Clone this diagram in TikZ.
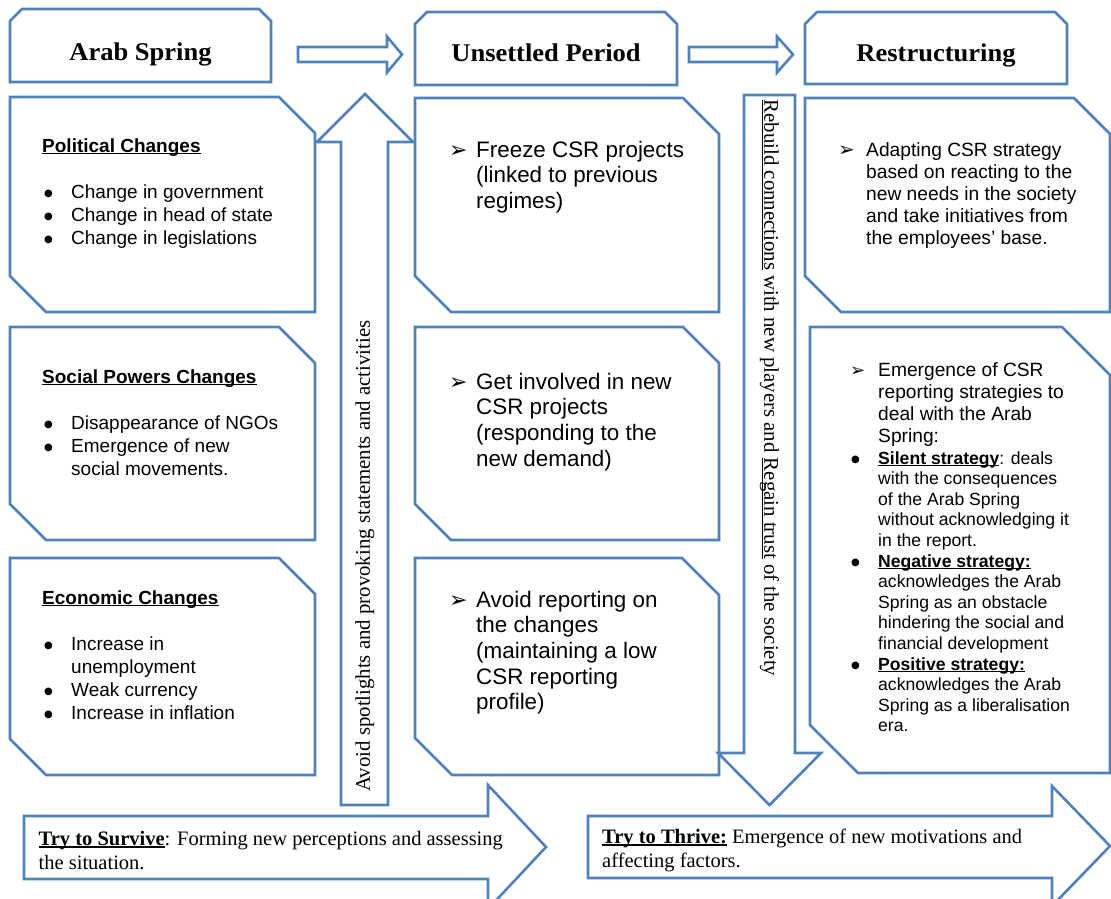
\documentclass[tikz,border=0pt]{standalone}
\usepackage{fontspec}
\setmainfont{Liberation Sans}
\newfontfamily\headfont[FakeStretch=1.04]{Liberation Serif}
\newfontfamily\serifbody{Liberation Serif}
\newfontfamily\symfont{DejaVu Sans}

\definecolor{edge}{HTML}{4F81BD}

% underline drawn as a rule just below the baseline
\newcommand\uln[1]{\setbox0\hbox{#1}\rlap{\rule[-0.13em]{\wd0}{0.065em}}\box0\relax}
% round list bullet
\newcommand\dotmark[2]{\raisebox{#2}{\symfont\fontsize{#1}{#1}\selectfont ●}}
% list items: bullet and arrow-head markers with hanging indent
\newcommand\bitem[3]{\par\hangindent=#1\hangafter=1\noindent\makebox[#1][l]{\hspace{#2}\dotmark{10}{1.5pt}}#3}
\newcommand\aitem[3]{\par\hangindent=#1\hangafter=1\noindent\makebox[#1][l]{{\symfont\fontsize{#2}{#2}\selectfont ➢}}#3}

% box with the two upper corners cut
\newcommand\tabbox[5]{\draw[box] (#1,{#2+#5}) -- ({#1+#5},#2) -- ({#3-#5},#2) -- (#3,{#2+#5}) -- (#3,#4) -- (#1,#4) -- cycle;}
% box with upper-right and lower-left corners cut
\newcommand\snipbox[5]{\draw[box] (#1,#2) -- ({#3-#5},#2) -- (#3,{#2+#5}) -- (#3,#4) -- ({#1+#5},#4) -- (#1,{#4-#5}) -- cycle;}

\tikzset{
  box/.style={draw=edge, line width=2.6pt, fill=white, line join=miter},
  txt/.style={anchor=base west, inner sep=0pt, align=left},
  title/.style={anchor=base, inner sep=0pt, font=\headfont\bfseries\fontsize{25.5}{30}\selectfont},
  sidetext/.style={inner sep=0pt, font=\serifbody\fontsize{20.8}{24}\selectfont},
  listA/.style={txt, font=\fontsize{19}{23}\selectfont},
  listB/.style={txt, font=\fontsize{22.4}{25.7}\selectfont},
  listC/.style={txt, font=\fontsize{19.2}{22}\selectfont},
  listD/.style={txt, font=\fontsize{17.6}{20.6}\selectfont},
  arrowtext/.style={txt, font=\serifbody\fontsize{20.5}{24.5}\selectfont},
}

\begin{document}
\begin{tikzpicture}[x=1pt,y=-1pt]
\useasboundingbox (0,0) rectangle (1111,898);
\fill[white] (0,0) rectangle (1111,898);
\clip (0,0) rectangle (1111,898);

% ---------- header row ----------
\tabbox{10}{9}{271}{82}{12}
\tabbox{415}{12}{677}{85}{12}
\tabbox{805}{12}{1067}{84}{12}
\node[title] (arab) at (140.5,60) {Arab Spring};
\node[title] (unsettled) at (546,61) {Unsettled Period};
\node[title] (restruct) at (936,61) {Restructuring};

% arrows between the headers
\draw[box] (298,47) -- (387,47) -- (387,36.5) -- (402,54.5) -- (387,72.5) -- (387,62) -- (298,62) -- cycle;
\draw[box] (689,47) -- (777,47) -- (777,36.5) -- (793,54.5) -- (777,72.5) -- (777,62) -- (689,62) -- cycle;

% ---------- Arab Spring column ----------
\snipbox{10}{97}{315}{312}{36}
\snipbox{10}{327}{315}{540}{36}
\snipbox{10}{558}{315}{775}{36}

\node[listA] (political) at (42,152) {\parbox[t]{265pt}{
  \textbf{\uln{Political Changes}}\par\vspace{23pt}
  \bitem{29pt}{2pt}{Change in government}
  \bitem{29pt}{2pt}{Change in head of state}
  \bitem{29pt}{2pt}{Change in legislations}}};

\node[listA] (social) at (42,383) {\parbox[t]{265pt}{
  \textbf{\uln{Social Powers Changes}}\par\vspace{23pt}
  \bitem{29pt}{2pt}{Disappearance of NGOs}
  \bitem{29pt}{2pt}{Emergence of new\\social movements.}}};

\node[listA] (economic) at (42,604) {\parbox[t]{265pt}{
  \textbf{\uln{Economic Changes}}\par\vspace{23pt}
  \bitem{29pt}{2pt}{Increase in\\unemployment}
  \bitem{29pt}{2pt}{Weak currency}
  \bitem{29pt}{2pt}{Increase in inflation}}};

% ---------- Unsettled Period column ----------
\snipbox{415}{98}{719}{312}{36}
\snipbox{415}{327}{719}{540}{36}
\snipbox{415}{558}{719}{775}{37}

\node[listB] (freeze) at (449,157) {\parbox[t]{265pt}{
  \aitem{27pt}{22}{Freeze CSR projects\\(linked to previous\\regimes)}}};
\node[listB] (involved) at (449,389) {\parbox[t]{265pt}{
  \aitem{27pt}{22}{Get involved in new\\CSR projects\\(responding to the\\new demand)}}};
\node[listB] (avoidrep) at (449,607) {\parbox[t]{265pt}{
  \aitem{27pt}{22}{Avoid reporting on\\the changes\\(maintaining a low\\CSR reporting\\profile)}}};

% ---------- Restructuring column ----------
\snipbox{805}{98}{1110}{312}{36}
\snipbox{810}{327}{1110}{773}{48}

\node[listC] (adapting) at (838,156) {\parbox[t]{265pt}{
  \aitem{28pt}{20}{Adapting CSR strategy\\based on reacting to the\\new needs in the society\\and take initiatives from\\the employees’ base.}}};

\node[listC] (emergence) at (850,376) {\parbox[t]{255pt}{
  \aitem{28pt}{18}{Emergence of CSR\\reporting strategies to\\deal with the Arab\\Spring:}}};

\node[listD] (strategies) at (850,464) {\parbox[t]{255pt}{
  \bitem{28pt}{1pt}{\textbf{\uln{Silent strategy}}: deals\\with the consequences\\of the Arab Spring\\without acknowledging it\\in the report.}
  \bitem{28pt}{1pt}{\textbf{\uln{Negative strategy:}}\\acknowledges the Arab\\Spring as an obstacle\\hindering the social and\\financial development}
  \bitem{28pt}{1pt}{\textbf{\uln{Positive strategy:}}\\acknowledges the Arab\\Spring as a liberalisation\\era.}}};

% ---------- vertical block arrows ----------
\draw[box] (341,805) -- (341,142) -- (317,142) -- (365,94) -- (413,142) -- (388,142) -- (388,805) -- cycle;
\node[sidetext, rotate=90] (avoid) at (365,556) {Avoid spotlights and provoking statements and activities};

\draw[box] (744,95) -- (795,95) -- (795,753) -- (821,753) -- (769.5,805) -- (718,753) -- (744,753) -- cycle;
\node[sidetext, rotate=-90] (rebuild) at (769.5,388) {\uln{Rebuild connections} with new players and \uln{Regain trust} of the society};

% ---------- bottom block arrows ----------
\draw[box] (24,816) -- (488,816) -- (488,785) -- (546,847) -- (488,909) -- (488,879) -- (24,879) -- cycle;
\node[arrowtext] (survive) at (38.5,845) {\parbox[t]{470pt}{
  \textbf{\uln{Try to Survive}}: Forming new perceptions and assessing\\the situation.}};

\draw[box] (588,816) -- (1052,816) -- (1052,786) -- (1110,846) -- (1052,906) -- (1052,878) -- (588,878) -- cycle;
\node[arrowtext] (thrive) at (602,843) {\parbox[t]{470pt}{
  \textbf{\uln{Try to Thrive:}} Emergence of new motivations and\\affecting factors.}};
\end{tikzpicture}
\end{document}
